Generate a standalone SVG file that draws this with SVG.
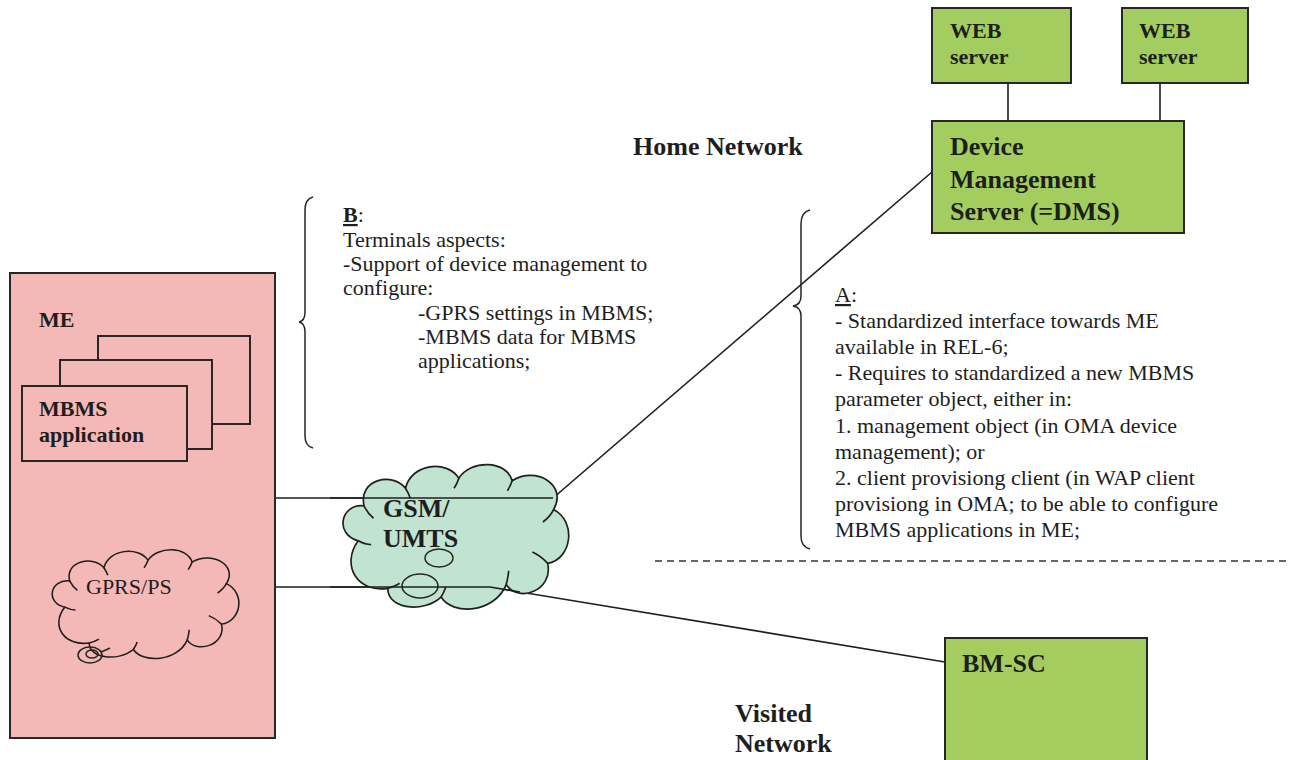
<svg xmlns="http://www.w3.org/2000/svg" width="1292" height="760" viewBox="0 0 1292 760">
<defs>
<style>
.box{stroke:#262626;stroke-width:2}
.green{fill:#a3ce5f}
.pink{fill:#f4b9b6}
.line{fill:none;stroke:#1f1f1f;stroke-width:1.6}
.thin{fill:none;stroke:#262626;stroke-width:1.5}
.b{font-family:"Liberation Serif","Times New Roman",serif;font-weight:bold;fill:#1e1e1e}
.r{font-family:"Liberation Serif","Times New Roman",serif;fill:#1e1e1e}
.u{text-decoration:underline}
</style>
<path id="cloud" d="M 20,70 C 0,65 5,40 25,42 C 20,20 50,15 60,28 C 65,8 95,5 105,20 C 115,5 145,5 150,22 C 170,10 197,25 185,45 C 205,55 200,85 180,88 C 185,110 155,120 145,105 C 135,128 100,130 90,115 C 75,128 45,125 45,108 C 20,112 5,90 20,70 Z"/>
<path id="cloudInner" d="M 25,42 C 27,46 29,49 33,52 M 60,28 C 62,31 63,33 64,36 M 105,20 C 104,23 103,25 101,28 M 150,22 C 149,25 148,27 146,30 M 185,45 C 183,49 180,52 176,55 M 180,88 C 176,84 172,81 167,79 M 145,105 C 146,101 147,97 147,94 M 90,115 C 92,112 93,110 94,107 M 45,108 C 49,107 52,106 55,104 M 20,70 C 24,72 27,73 31,73"/>
</defs>
<rect width="1292" height="760" fill="#ffffff"/>

<g id="connectors">
<polyline class="line" points="275,498 553,498 932,172"/>
<polyline class="line" points="275,587 490,587 945,662"/>
<line class="line" x1="1008" y1="83" x2="1008" y2="121"/>
<line class="line" x1="1160" y1="83" x2="1160" y2="121"/>
<line x1="655" y1="561" x2="1290" y2="561" stroke="#333" stroke-width="1.3" stroke-dasharray="7,5"/>
</g>

<g id="me">
<rect class="box pink" x="10" y="273" width="265" height="465"/>
<text class="b" x="39" y="327" font-size="22">ME</text>
<rect class="box pink" x="98" y="336" width="152" height="88" stroke-width="1.6"/>
<rect class="box pink" x="60" y="360" width="152" height="89" stroke-width="1.6"/>
<rect class="box pink" x="22" y="386" width="165" height="75" stroke-width="1.6"/>
<text class="b" x="39" y="416" font-size="22">MBMS</text>
<text class="b" x="39" y="442" font-size="22">application</text>
</g>

<g id="gprs">
<g transform="translate(45.1,541.4) scale(0.98,0.94)">
<use href="#cloud" class="pink" stroke="#1f1f1f" stroke-width="1.6"/>
<use href="#cloudInner" fill="none" stroke="#1f1f1f" stroke-width="1.6"/>
</g>
<path class="thin" d="M 101,652 Q 106,650 110,648" />
<ellipse class="thin" cx="90" cy="655" rx="12" ry="8" fill="#f4b9b6"/>
<ellipse class="thin" cx="92" cy="654" rx="6" ry="4"/>
<text class="r" x="86" y="594" font-size="22">GPRS/PS</text>
</g>

<g id="gsm-umts">
<g transform="translate(334.4,453.3) scale(1.185,1.25)">
<use href="#cloud" fill="#c1e4d1" stroke="#1f1f1f" stroke-width="1.4"/>
<use href="#cloudInner" fill="none" stroke="#1f1f1f" stroke-width="1.4"/>
</g>
<polyline class="line" points="330,498 553,498"/>
<polyline class="line" points="330,587 490,587 520,592"/>
<text class="b" x="383" y="517" font-size="26">GSM/</text>
<text class="b" x="383" y="547" font-size="26">UMTS</text>
<ellipse class="thin" cx="439" cy="558" rx="14" ry="9"/>
<ellipse class="thin" cx="420" cy="586" rx="18" ry="12"/>
</g>

<g id="web1">
<rect class="box green" x="932" y="8" width="139" height="75"/>
<text class="b" x="950" y="38" font-size="22">WEB</text>
<text class="b" x="950" y="64" font-size="22">server</text>
</g>

<g id="web2">
<rect class="box green" x="1122" y="8" width="126" height="75"/>
<text class="b" x="1139" y="38" font-size="22">WEB</text>
<text class="b" x="1139" y="64" font-size="22">server</text>
</g>

<g id="dms">
<rect class="box green" x="932" y="121" width="252" height="112"/>
<text class="b" x="950" y="155" font-size="26">Device</text>
<text class="b" x="950" y="188" font-size="26">Management</text>
<text class="b" x="950" y="220" font-size="26">Server (=DMS)</text>
</g>

<g id="bmsc">
<rect class="box green" x="945" y="638" width="202" height="130"/>
<text class="b" x="962" y="672" font-size="26">BM-SC</text>
</g>

<g id="home-label">
<text class="b" x="633" y="155" font-size="26">Home Network</text>
</g>

<g id="visited-label">
<text class="b" x="735" y="722" font-size="26">Visited</text>
<text class="b" x="735" y="752" font-size="26">Network</text>
</g>

<g id="note-b">
<path class="thin" d="M 313,197 Q 305,199 305,210 L 305,312 Q 305,321 299,322 Q 305,323 305,332 L 305,436 Q 305,446 313,448"/>
<text class="r" font-size="22">
<tspan x="343" y="222"><tspan class="u" font-weight="bold">B</tspan>:</tspan>
<tspan x="343" y="247">Terminals aspects:</tspan>
<tspan x="343" y="271">-Support of device management to</tspan>
<tspan x="343" y="295">configure:</tspan>
<tspan x="418" y="320">-GPRS settings in MBMS;</tspan>
<tspan x="418" y="344">-MBMS data for MBMS</tspan>
<tspan x="418" y="368">applications;</tspan>
</text>
</g>

<g id="note-a">
<path class="thin" d="M 810,210 Q 801,212 801,224 L 801,296 Q 801,305 793,306 Q 801,307 801,316 L 801,536 Q 801,547 810,549"/>
<text class="r" font-size="22">
<tspan x="835" y="302"><tspan class="u">A</tspan>:</tspan>
<tspan x="835" y="328">- Standardized interface towards ME</tspan>
<tspan x="835" y="354">available in REL-6;</tspan>
<tspan x="835" y="380">- Requires to standardized a new MBMS</tspan>
<tspan x="835" y="406">parameter object, either in:</tspan>
<tspan x="835" y="433">1. management object (in OMA device</tspan>
<tspan x="835" y="459">management); or</tspan>
<tspan x="835" y="485">2. client provisiong client (in WAP client</tspan>
<tspan x="835" y="511">provisiong in OMA; to be able to configure</tspan>
<tspan x="835" y="537">MBMS applications in ME;</tspan>
</text>
</g>
</svg>
